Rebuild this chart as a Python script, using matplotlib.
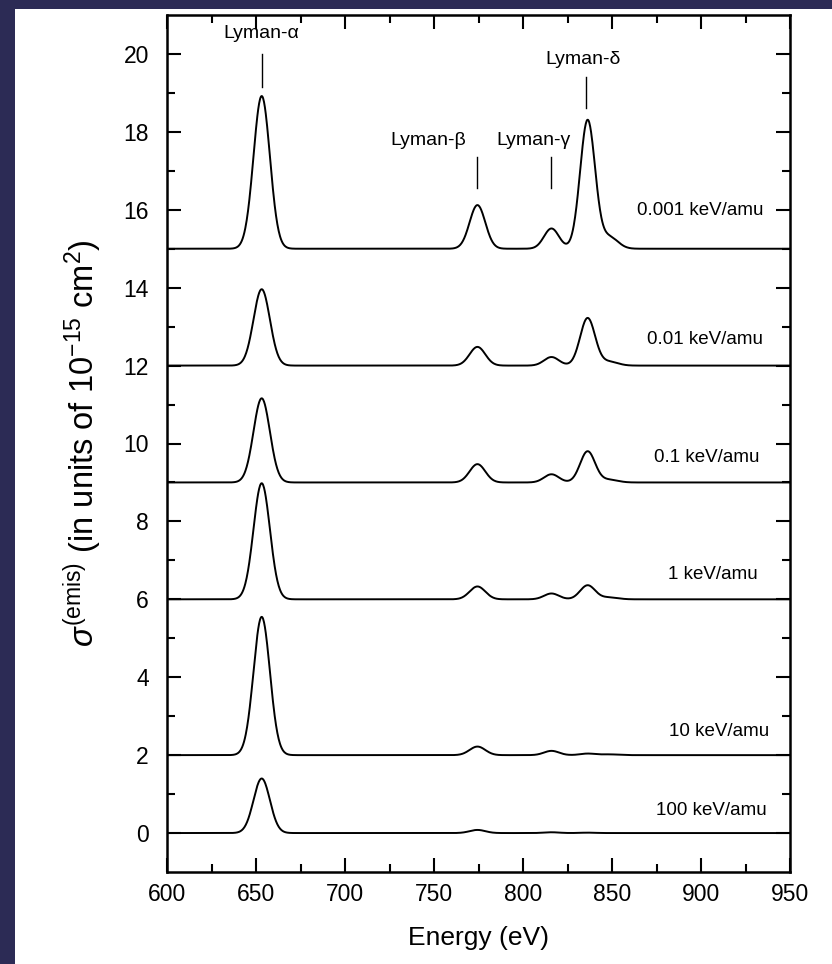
#!/usr/bin/env python3
"""Emission cross sections of the Lyman series vs. collision energy (stacked)."""
import numpy as np
import matplotlib
matplotlib.use("Agg")
import matplotlib.pyplot as plt
from matplotlib.patches import Rectangle

plt.rcParams["font.family"] = ["Liberation Sans", "DejaVu Sans"]
plt.rcParams["mathtext.fontset"] = "custom"
plt.rcParams["mathtext.rm"] = "Liberation Sans"
plt.rcParams["mathtext.it"] = "Liberation Sans:italic"

# ---- data ----
energies = ["0.001 keV/amu", "0.01 keV/amu", "0.1 keV/amu",
            "1 keV/amu", "10 keV/amu", "100 keV/amu"]
offsets = [15, 12, 9, 6, 2, 0]
line_names = ["Lyman-α", "Lyman-β", "Lyman-γ", "Lyman-δ", "high-n"]
line_centers = [653.2, 774.4, 816.0, 836.3, 848.5]     # eV
line_widths = [4.6, 4.4, 4.2, 4.2, 4.8]               # gaussian sigma, eV
# peak heights above each curve's baseline (units of 1e-15 cm^2)
h_alpha = [3.92, 1.96, 2.16, 2.98, 3.55, 1.40]
h_beta = [1.12, 0.48, 0.47, 0.33, 0.22, 0.08]
h_gamma = [0.52, 0.22, 0.21, 0.15, 0.11, 0.02]
h_delta = [3.30, 1.22, 0.80, 0.36, 0.04, 0.01]
h_high = [0.30, 0.10, 0.07, 0.05, 0.02, 0.00]
label_y = [15.97, 12.66, 9.65, 6.63, 2.60, 0.57]
label_x = [935, 935, 933, 932, 938, 937]

# line markers: x, text position, vertical extent of the marker line
marker_x = [653.2, 774.4, 816.0, 835.5]
marker_text_y = [20.3, 17.55, 17.55, 19.65]
marker_top = [20.0, 17.35, 17.35, 19.4]
marker_bot = [19.15, 16.55, 16.55, 18.6]
marker_text_x = [653.2, 747.0, 806.0, 834.0]


def main():
    E = np.linspace(600, 950, 1401)
    heights = list(zip(h_alpha, h_beta, h_gamma, h_delta, h_high))

    fig = plt.figure(figsize=(8.32, 9.64), dpi=100, facecolor="#2c2b55")
    bg = Rectangle((15 / 832, 0), 1, 1 - 9 / 964, transform=fig.transFigure,
                   facecolor="white", edgecolor="none", zorder=-10)
    fig.add_artist(bg)
    ax = fig.add_axes([167 / 832, 1 - 872 / 964, 623 / 832, 857 / 964])
    ax.set_zorder(1)

    for base, hs in zip(offsets, heights):
        y = np.full_like(E, float(base))
        for c, w, h in zip(line_centers, line_widths, hs):
            y += h * np.exp(-0.5 * ((E - c) / w) ** 2)
        ax.plot(E, y, color="black", lw=1.4)

    for txt, lx, ly in zip(energies, label_x, label_y):
        ax.text(lx, ly, txt, ha="right", va="center", fontsize=13.5)

    for name, x, tx, ty, top, bot in zip(line_names, marker_x, marker_text_x,
                                         marker_text_y, marker_top, marker_bot):
        ax.plot([x, x], [bot, top], color="black", lw=1.0)
        ax.text(tx, ty, name, ha="center", va="bottom", fontsize=14)

    ax.set_xlim(600, 950)
    ax.set_ylim(-1, 21)
    ax.set_xticks(np.arange(600, 951, 50))
    ax.set_xticks(np.arange(625, 950, 50), minor=True)
    ax.set_yticks(np.arange(0, 21, 2))
    ax.set_yticks(np.arange(1, 21, 2), minor=True)
    ax.tick_params(which="both", direction="in", top=True, right=True,
                   width=1.5, labelsize=16.5)
    ax.tick_params(axis="x", pad=8)
    ax.tick_params(axis="y", pad=13)
    ax.tick_params(which="major", length=10)
    ax.tick_params(which="minor", length=6)
    for s in ax.spines.values():
        s.set_linewidth(1.8)

    ax.set_xlabel("Energy (eV)", fontsize=19, labelpad=14)
    ax.set_ylabel(r"$\sigma^{(\mathrm{emis})}$ (in units of 10$^{-15}$ cm$^{2}$)",
                  fontsize=23.5, labelpad=14)

    fig.savefig("out.png", dpi=100, facecolor=fig.get_facecolor())


if __name__ == "__main__":
    main()
